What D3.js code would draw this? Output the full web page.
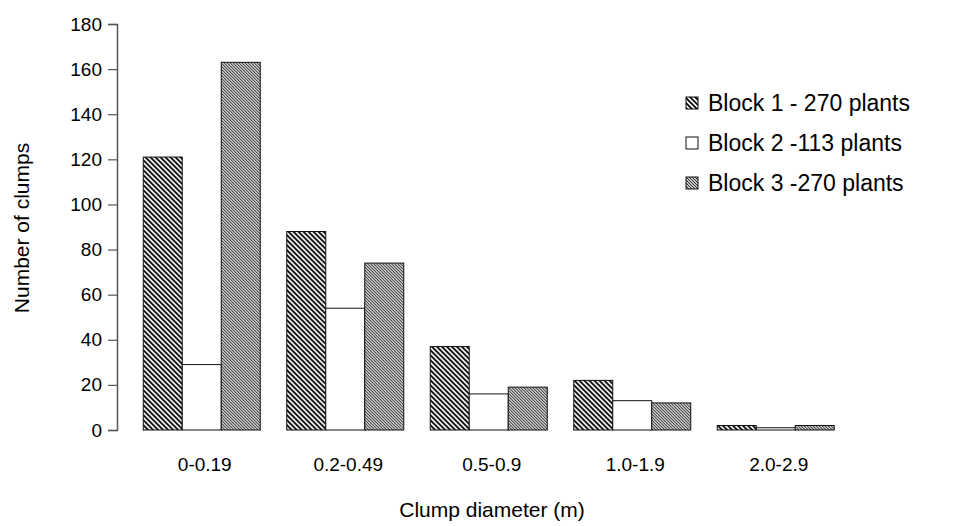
<!DOCTYPE html>
<html>
  <head>
    <script src="https://d3js.org/d3.v7.min.js"></script>
    <style>
      body { margin: 0; background: #fff; }
      text { font-family: "Liberation Sans", Arial, sans-serif; fill: #000; }
      .tick text { font-size: 19px; }
      .axis-title { font-size: 21px; }
      .legend text { font-size: 23px; }
    </style>
  </head>
  <body>
    <svg width="954" height="526"></svg>
    <script>
      const categories = ["0-0.19", "0.2-0.49", "0.5-0.9", "1.0-1.9", "2.0-2.9"];
      const seriesNames = ["Block 1 - 270 plants", "Block 2 -113 plants", "Block 3 -270 plants"];
      const block1 = [121, 88, 37, 22, 2];
      const block2 = [29, 54, 16, 13, 1];
      const block3 = [163, 74, 19, 12, 2];
      const yTicks = [0, 20, 40, 60, 80, 100, 120, 140, 160, 180];

      const series = [block1, block2, block3];
      const fills = ["url(#hatch1)", "#fff", "url(#hatch3)"];

      const svg = d3.select("svg");

      // patterns
      const defs = svg.append("defs");
      const p1 = defs.append("pattern")
        .attr("id", "hatch1")
        .attr("patternUnits", "userSpaceOnUse")
        .attr("width", 5).attr("height", 5);
      p1.append("rect").attr("width", 5).attr("height", 5).attr("fill", "#fff");
      p1.append("path")
        .attr("d", "M0,0L5,5M-1,4L1,6M4,-1L6,1")
        .attr("stroke", "#000").attr("stroke-width", 1.8);

      const p3 = defs.append("pattern")
        .attr("id", "hatch3")
        .attr("patternUnits", "userSpaceOnUse")
        .attr("width", 3).attr("height", 3);
      p3.append("rect").attr("width", 3).attr("height", 3).attr("fill", "#c8c8c8");
      p3.append("path")
        .attr("d", "M0,0L3,3M-1,2L1,4M2,-1L4,1")
        .attr("stroke", "#1a1a1a").attr("stroke-width", 0.9);

      const x = d3.scaleBand()
        .domain(categories)
        .range([130, 847.5]);

      const groupW = 117;
      const xInner = d3.scaleBand()
        .domain(d3.range(series.length))
        .range([0, groupW]);

      const y = d3.scaleLinear()
        .domain([0, 180])
        .range([430, 24]);

      // y axis
      const yAxis = svg.append("g")
        .attr("transform", "translate(117,0)")
        .call(d3.axisLeft(y).tickValues(yTicks).tickSize(9).tickPadding(6));
      yAxis.select(".domain").attr("stroke", "#555").attr("stroke-width", 1.5);
      yAxis.selectAll(".tick line").attr("stroke", "#555").attr("stroke-width", 1.2);

      // bars
      const groups = svg.append("g").selectAll("g")
        .data(categories)
        .join("g")
          .attr("transform", d => `translate(${x(d) + (x.bandwidth() - groupW) / 2},0)`);

      groups.selectAll("rect")
        .data((d, i) => series.map((s, k) => ({ k: k, v: s[i] })))
        .join("rect")
          .attr("x", d => xInner(d.k))
          .attr("width", xInner.bandwidth())
          .attr("y", d => y(d.v))
          .attr("height", d => y(0) - y(d.v))
          .attr("fill", d => fills[d.k])
          .attr("stroke", "#111")
          .attr("stroke-width", 1);

      // x labels
      svg.append("g").selectAll("text")
        .data(categories)
        .join("text")
          .attr("x", d => x(d) + x.bandwidth() / 2 + 3)
          .attr("y", 471)
          .attr("text-anchor", "middle")
          .style("font-size", "19px")
          .text(d => d);

      // axis titles
      svg.append("text")
        .attr("class", "axis-title")
        .attr("x", 492)
        .attr("y", 517)
        .attr("text-anchor", "middle")
        .text("Clump diameter (m)");

      svg.append("text")
        .attr("class", "axis-title")
        .attr("transform", "translate(29,228) rotate(-90)")
        .attr("text-anchor", "middle")
        .text("Number of clumps");

      // legend
      const legend = svg.append("g").attr("class", "legend")
        .attr("transform", "translate(686,103)");
      const item = legend.selectAll("g")
        .data(seriesNames)
        .join("g")
          .attr("transform", (d, i) => `translate(0,${i * 40})`);
      item.append("rect")
        .attr("x", 0).attr("y", -6)
        .attr("width", 12).attr("height", 12)
        .attr("fill", (d, i) => fills[i])
        .attr("stroke", "#111");
      item.append("text")
        .attr("x", 22)
        .attr("y", 8)
        .text(d => d);
    </script>
  </body>
</html>
